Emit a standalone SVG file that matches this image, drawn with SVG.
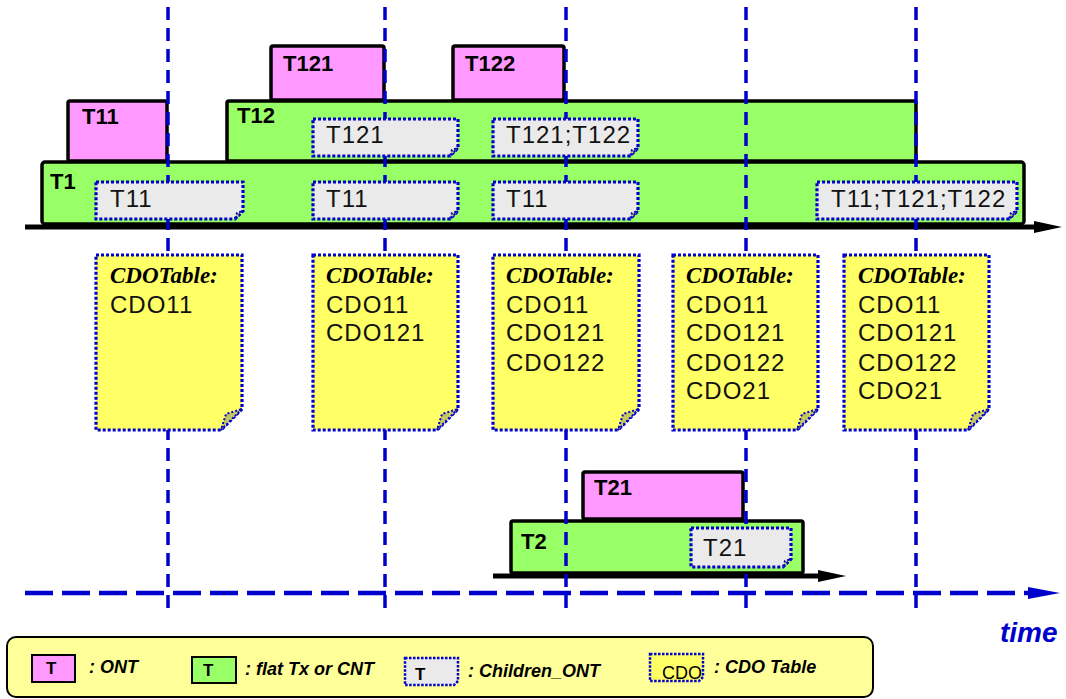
<svg xmlns="http://www.w3.org/2000/svg" width="1066" height="699" viewBox="0 0 1066 699">
<defs>
<style>
.ont{fill:#FF99FF;stroke:#000;stroke-width:3.5}
.cnt{fill:#99FF66;stroke:#000;stroke-width:3.5}
.child{fill:#EAEAEA;stroke:#0000CC;stroke-width:3.2;stroke-dasharray:3 2}
.cdo{fill:#FFFF66;stroke:#0000CC;stroke-width:3.2;stroke-dasharray:3 2}
.fold{fill:#C8C860;stroke:#0000CC;stroke-width:2;stroke-dasharray:2 2}
.lbl{font-family:"Liberation Sans",Arial,sans-serif;font-weight:bold;font-size:22px;fill:#000}
.ctext{font-family:"Liberation Sans",Arial,sans-serif;font-size:24px;letter-spacing:1px;fill:#111}
.thead{font-family:"Liberation Serif","Times New Roman",serif;font-weight:bold;font-style:italic;font-size:23px;fill:#000}
.vline{stroke:#0000CC;stroke-width:3.5;stroke-dasharray:13 8;fill:none}
.hline{stroke:#0000CC;stroke-width:4.5;stroke-dasharray:28 9;fill:none}
.axis{stroke:#000;stroke-width:5;fill:none}
.leg{font-family:"Liberation Sans",Arial,sans-serif;font-weight:bold;font-style:italic;font-size:18px;fill:#000}
.legT{font-family:"Liberation Sans",Arial,sans-serif;font-weight:bold;font-size:17px;fill:#000}
</style>
<marker id="blk" markerWidth="30" markerHeight="14" refX="0" refY="7" orient="auto" markerUnits="userSpaceOnUse">
<path d="M0,1 L28,7 L0,13 Z" fill="#000"/>
</marker>
<marker id="blu" markerWidth="34" markerHeight="14" refX="0" refY="7" orient="auto" markerUnits="userSpaceOnUse">
<path d="M0,1 L32,7 L0,13 Z" fill="#0000CC"/>
</marker>
</defs>
<rect width="1066" height="699" fill="#fff"/>

<g id="T1"><rect class="cnt" x="42" y="162" width="982" height="62" rx="3"/><text class="lbl" x="50" y="189">T1</text></g>
<g id="T11"><rect class="ont" x="68" y="101" width="99" height="60" rx="2"/><text class="lbl" x="82" y="124">T11</text></g>
<g id="T12"><rect class="cnt" x="227" y="101" width="689" height="60" rx="2"/><text class="lbl" x="237" y="123">T12</text></g>
<g id="T121"><rect class="ont" x="271" y="46" width="113" height="54" rx="2"/><text class="lbl" x="283" y="71">T121</text></g>
<g id="T122"><rect class="ont" x="453" y="46" width="111" height="54" rx="2"/><text class="lbl" x="465" y="71">T122</text></g>
<g id="T2"><rect class="cnt" x="511" y="521" width="292" height="52" rx="2"/><text class="lbl" x="521" y="549">T2</text></g>
<g id="T21"><rect class="ont" x="583" y="472" width="160" height="47" rx="2"/><text class="lbl" x="594" y="495">T21</text></g>

<g id="connectors">
<line class="axis" x1="25" y1="227" x2="1034" y2="227" marker-end="url(#blk)"/>
<line class="axis" x1="493" y1="576" x2="818" y2="576" marker-end="url(#blk)"/>
<line class="hline" x1="25" y1="593" x2="1028" y2="593" marker-end="url(#blu)"/>
<line class="vline" x1="168" y1="7" x2="168" y2="610"/>
<line class="vline" x1="385" y1="7" x2="385" y2="610"/>
<line class="vline" x1="566" y1="7" x2="566" y2="610"/>
<line class="vline" x1="746" y1="7" x2="746" y2="610"/>
<line class="vline" x1="916" y1="7" x2="916" y2="610"/>
</g>

<g id="c-T11a"><path class="child" d="M96,182 H243 V211 L235,219 H96 Z"/><path class="fold" d="M243,211 L235,219 L237,213 Z"/><text class="ctext" x="110" y="207">T11</text></g>
<g id="c-T11b"><path class="child" d="M313,182 H458 V211 L450,219 H313 Z"/><path class="fold" d="M458,211 L450,219 L452,213 Z"/><text class="ctext" x="326" y="207">T11</text></g>
<g id="c-T11c"><path class="child" d="M493,182 H638 V211 L630,219 H493 Z"/><path class="fold" d="M638,211 L630,219 L632,213 Z"/><text class="ctext" x="506" y="207">T11</text></g>
<g id="c-T11d"><path class="child" d="M817,182 H1017 V211 L1009,219 H817 Z"/><path class="fold" d="M1017,211 L1009,219 L1011,213 Z"/><text class="ctext" x="831" y="207" letter-spacing="1.6">T11;T121;T122</text></g>
<g id="c-T121"><path class="child" d="M313,119 H458 V148 L450,156 H313 Z"/><path class="fold" d="M458,148 L450,156 L452,150 Z"/><text class="ctext" x="326" y="143">T121</text></g>
<g id="c-T121T122"><path class="child" d="M493,119 H638 V148 L630,156 H493 Z"/><path class="fold" d="M638,148 L630,156 L632,150 Z"/><text class="ctext" x="506" y="143">T121;T122</text></g>
<g id="c-T21"><path class="child" d="M691,528 H791 V559 L783,567 H691 Z"/><path class="fold" d="M791,559 L783,567 L785,561 Z"/><text class="ctext" x="703" y="556">T21</text></g>

<g id="cdo1"><path class="cdo" d="M96,255 H242 V409 L221,430 H96 Z"/><path class="fold" d="M242,409 L221,430 L226,414 Z"/><text class="thead" x="110" y="283">CDOTable:</text><text class="ctext" x="110" y="313">CDO11</text></g>
<g id="cdo2"><path class="cdo" d="M313,255 H458 V409 L437,430 H313 Z"/><path class="fold" d="M458,409 L437,430 L442,414 Z"/><text class="thead" x="326" y="283">CDOTable:</text><text class="ctext" x="326" y="313">CDO11</text><text class="ctext" x="326" y="341">CDO121</text></g>
<g id="cdo3"><path class="cdo" d="M493,255 H639 V409 L618,430 H493 Z"/><path class="fold" d="M639,409 L618,430 L623,414 Z"/><text class="thead" x="506" y="283">CDOTable:</text><text class="ctext" x="506" y="313">CDO11</text><text class="ctext" x="506" y="341">CDO121</text><text class="ctext" x="506" y="371">CDO122</text></g>
<g id="cdo4"><path class="cdo" d="M673,255 H818 V409 L797,430 H673 Z"/><path class="fold" d="M818,409 L797,430 L802,414 Z"/><text class="thead" x="686" y="283">CDOTable:</text><text class="ctext" x="686" y="313">CDO11</text><text class="ctext" x="686" y="341">CDO121</text><text class="ctext" x="686" y="371">CDO122</text><text class="ctext" x="686" y="399">CDO21</text></g>
<g id="cdo5"><path class="cdo" d="M844,255 H989 V409 L968,430 H844 Z"/><path class="fold" d="M989,409 L968,430 L973,414 Z"/><text class="thead" x="858" y="283">CDOTable:</text><text class="ctext" x="858" y="313">CDO11</text><text class="ctext" x="858" y="341">CDO121</text><text class="ctext" x="858" y="371">CDO122</text><text class="ctext" x="858" y="399">CDO21</text></g>

<g id="time"><text x="1000" y="642" font-family="'Liberation Sans',Arial,sans-serif" font-weight="bold" font-style="italic" font-size="28" fill="#0000CC">time</text></g>

<g id="legend">
<rect x="7" y="637" width="866" height="60" rx="9" fill="#FFFF99" stroke="#000" stroke-width="2"/>
<rect x="32" y="655" width="43" height="27" fill="#FF99FF" stroke="#000" stroke-width="2"/>
<text class="legT" x="46" y="674">T</text>
<text class="leg" x="89" y="673">: ONT</text>
<rect x="192" y="657" width="44" height="26" fill="#99FF66" stroke="#000" stroke-width="2"/>
<text class="legT" x="203" y="676">T</text>
<text class="leg" x="245" y="675">: flat Tx or CNT</text>
<path d="M405,658 H458 V681 L454,685 H405 Z" fill="#EAEAEA" stroke="#0000CC" stroke-width="2.5" stroke-dasharray="2.5 1.5"/>
<text class="legT" x="415" y="680">T</text>
<text class="leg" x="468" y="677">: Children_ONT</text>
<path d="M650,654 H703 V677 L699,681 H650 Z" fill="#FFFF66" stroke="#0000CC" stroke-width="2.5" stroke-dasharray="2.5 1.5"/>
<text x="662" y="679" font-family="'Liberation Sans',Arial,sans-serif" font-size="18" fill="#000">CDO</text>
<text class="leg" x="714" y="673">: CDO Table</text>
</g>
</svg>
